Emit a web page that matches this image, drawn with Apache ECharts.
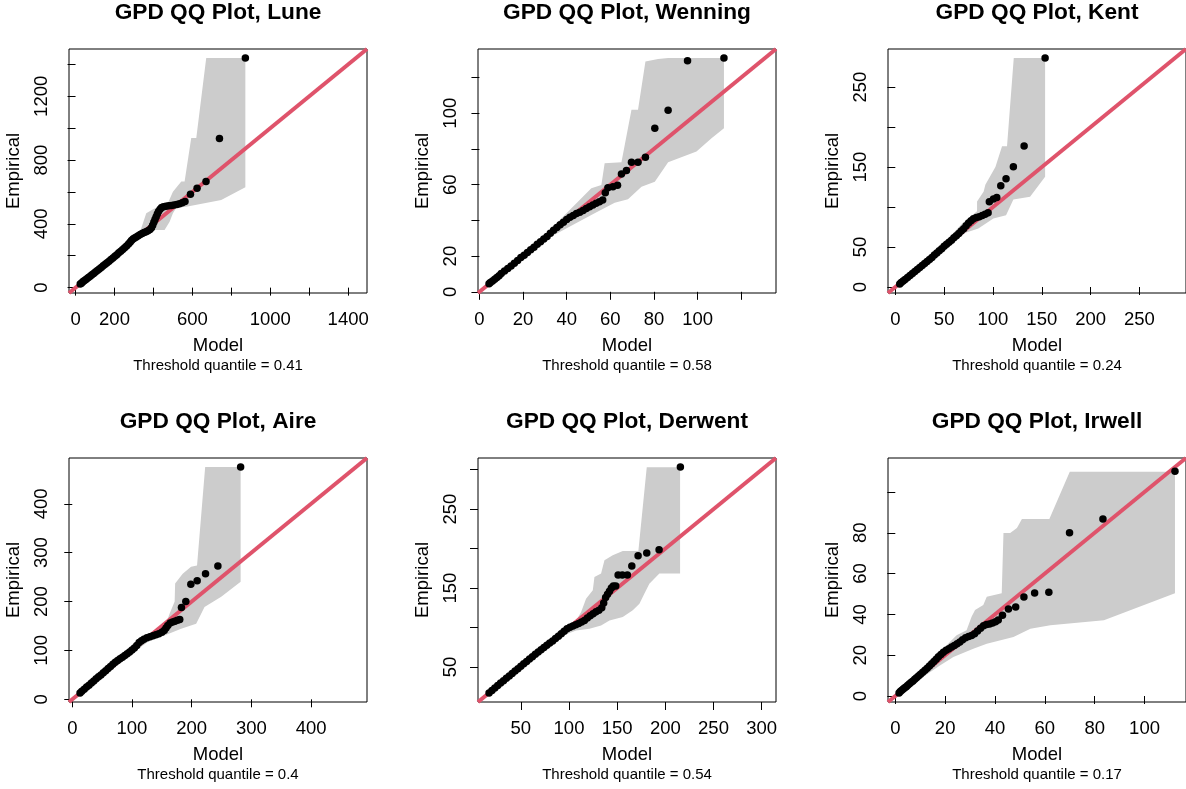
<!DOCTYPE html>
<html><head><meta charset="utf-8">
<script src="https://cdn.jsdelivr.net/npm/echarts@6/dist/echarts.min.js"></script>
<style>html,body{margin:0;padding:0;background:#fff}#c{width:1186px;height:789px}</style>
</head><body><div id="c"></div>
<script>
const FONT = '"Liberation Sans", Arial, Helvetica, sans-serif';

// ---------- Lune ----------
const lunePts = [[24,23],[30,28],[36,35],[42,41],[50,48],[58,56],[66,63],[75,72],[84,80],[93,89],[102,98],[112,108],[122,117],[132,127],[142,137],[152,146],[162,156],[172,166],[182,176],[192,186],[202,197],[212,207],[222,218],[232,228],[242,239],[252,250],[262,261],[272,273],[280,285],[287,296],[295,305],[303,312],[312,318],[322,325],[332,333],[342,340],[352,346],[362,350],[372,356],[382,364],[390,375],[396,392],[402,410],[408,428],[414,445],[420,462],[426,478],[434,492],[442,502],[452,508],[464,511],[478,513],[492,515],[506,518],[520,521],[534,526],[548,532],[562,540],[590,586],[624,624],[670,666],[739,936],[872,1440]];
const luneUpper = [[23,27],[150,162],[280,298],[320,338],[337,371],[363,466],[405,497],[466,507],[500,602],[543,665],[560,665],[594,938],[620,938],[671,1441],[872,1441]];
const luneLower = [[872,629],[748,549],[568,507],[517,501],[500,466],[483,413],[457,361],[389,361],[340,318],[200,185],[23,20]];
const luneXTicks = [0,200,400,600,800,1000,1200,1400];
const luneXLabels = [0,200,600,1000,1400];
const luneYTicks = [0,200,400,600,800,1000,1200,1400];
const luneYLabels = [0,400,800,1200];

// ---------- Wenning ----------
const wenPts = [[4.4,4.5],[5,5.2],[6,6],[7,7],[8,8],[9,9],[10,10.2],[11.5,11.6],[13,13],[14.5,14.5],[16,16],[17.5,17.6],[19,19.2],[20.5,20.5],[22,22],[23.5,23.5],[25,25],[26.5,26.6],[28,28],[29.5,29.6],[31,31],[32.5,32.8],[34,34.5],[35.5,36],[37,37.5],[38.5,39],[40,40.5],[41.5,41.7],[43,42.8],[44.5,43.8],[46,44.6],[47.5,45.5],[49,46.6],[50.5,47.6],[52,48.6],[53.5,49.6],[55,50.5],[56.5,51.4],[57.7,55.5],[58.9,58.3],[61.2,58.9],[63.3,59.7],[65.1,66],[67.4,67.9],[69.7,72.6],[72.7,72.6],[76.1,75.4],[80.4,91.6],[86.5,101.7],[95.4,129.4],[112.1,130.9]];
const wenUpper = [[4.4,5.2],[30,31.5],[38.3,42.1],[51.3,58],[55.9,59.8],[57.4,72],[65.1,72.6],[69.7,101.9],[72.7,101.9],[76.1,129],[81.9,130.3],[86.5,130.9],[112.1,130.9]];
const wenLower = [[112.1,91.6],[106.4,86],[99.5,78.5],[86.5,72.6],[80.4,61.7],[74.3,58.9],[68.1,51.8],[62,49.9],[52.8,44],[43.6,38],[30,29],[4.4,4]];
const wenXTicks = [0,20,40,60,80,100,120];
const wenXLabels = [0,20,40,60,80,100];
const wenYTicks = [0,20,40,60,80,100,120];
const wenYLabels = [0,20,60,100];

// ---------- Kent ----------
const kentPts = [[4.5,3.8],[6,5.5],[8,7.5],[10,9.5],[12.5,12],[15,14.5],[17.5,17],[20,19.5],[22.5,22],[25,24.5],[27.5,27],[30,29.5],[32.5,32],[35,34.5],[37.5,37],[40,40],[42.5,42.5],[45,45.5],[47.5,48],[50,51],[52.5,53.5],[55,56],[57.5,58.5],[60,61.5],[62.5,64],[65,67],[67.5,70],[70,73],[72.5,76.5],[75,80],[77.5,83],[80,85.5],[83,87],[86,88],[89,89.5],[92,91],[95,92.8],[96.3,106.6],[100.5,110],[103.9,112.1],[108,126.7],[113.4,135.4],[120.9,150.5],[131.9,176.4],[153.4,286.4]];
const kentUpper = [[4.5,5],[40,42],[69,80],[83.7,94.6],[83.7,107],[90.5,119.6],[92.2,128],[102.5,150],[109.3,176],[114.4,176],[121.3,286.5],[153.4,286.5]];
const kentLower = [[153.4,138],[138,112.9],[120.9,109.6],[113.4,89.9],[100.4,85.8],[85,73.2],[69.7,67],[40,39],[4.5,3.5]];
const kentXTicks = [0,50,100,150,200,250];
const kentXLabels = [0,50,100,150,200,250];
const kentYTicks = [0,50,100,150,200,250];
const kentYLabels = [0,50,150,250];

// ---------- Aire ----------
const airePts = [[13,13],[16,16.5],[20,20.5],[24,25],[28,29],[32,33.5],[36,37.5],[40,42],[44,46],[48,50],[52,54.5],[56,58.5],[60,63],[64,67],[68,71.5],[72,76],[76,79.5],[80,83],[84,86],[88,89.5],[92,93],[96,97],[100,101],[104,105],[108,110],[112,116],[116,120],[120,123],[125,126],[130,128],[135,130],[140,132],[145,134],[150,137],[154,141],[157,146],[160,151],[164,156],[168,158],[172,159.5],[176,162],[180,163.5],[182.9,187.6],[190.2,200],[198.6,235.6],[209.2,242.4],[223.2,256.8],[243.9,272.6],[282,475.2]];
const aireUpper = [[13,14],[100,105],[109.6,121.9],[123.6,130.8],[140,142],[158,158],[163,175],[171.5,200],[172.3,237],[185,257],[199,271],[209,274],[222.6,475.3],[282,475.3]];
const aireLower = [[282,240.4],[249.5,209.6],[221.5,189],[215.9,175.3],[207.5,154.8],[182.3,144.5],[154.4,130.8],[126.4,117.1],[60,58],[13,12]];
const aireXTicks = [0,100,200,300,400];
const aireXLabels = [0,100,200,300,400];
const aireYTicks = [0,100,200,300,400];
const aireYLabels = [0,100,200,300,400];

// ---------- Derwent ----------
const derPts = [[17,17],[20,20.2],[23,23.3],[26,26.4],[29,29.5],[32,32.6],[35,35.6],[38,38.6],[41,41.6],[44,44.7],[47,47.8],[50,50.9],[53,54],[56,57],[59,60],[62,63],[65,66],[68,69],[71,71.8],[74,74.7],[77,77.5],[80,80.2],[83,83],[86,86],[89,89],[92,92.2],[95,95.2],[98,98.3],[101,100.2],[104,101.8],[107,103.4],[110,105],[113,106.8],[116,109],[119,112],[122,114.8],[125,117.5],[128,120],[131,122],[134,125],[136,131],[138,138],[140,142],[142,146],[144,150],[146,152.6],[148.5,152.6],[151,166.6],[155.4,166.6],[160.6,166.6],[165.2,178.1],[171.7,191],[180.7,194.4],[193.5,198.6],[215.6,303.4]];
const derUpper = [[16.8,18],[60,62],[91.8,98.3],[107.4,108.9],[112.6,119.5],[117.7,136.5],[124.7,147.1],[126.4,164],[133.3,168.3],[136.8,185.2],[145.4,191.6],[155.8,197.1],[172,197.1],[180.7,303],[215.3,303]];
const derLower = [[215.3,168.3],[193.8,168.3],[183.4,155.6],[178.2,142.9],[173.1,130.1],[166.2,121.7],[155.8,113.2],[142,109],[133.3,102.6],[121.2,98.3],[107.4,96.2],[93.5,89.9],[50,48],[16.8,16]];
const derXTicks = [50,100,150,200,250,300];
const derXLabels = [50,100,150,200,250,300];
const derYTicks = [50,100,150,200,250,300];
const derYLabels = [50,150,250];

// ---------- Irwell ----------
const irwPts = [[1.5,1.5],[2,2.2],[2.6,2.8],[3.2,3.4],[3.8,4],[4.4,4.6],[5,5.3],[5.7,6],[6.4,6.7],[7.1,7.4],[7.8,8.2],[8.5,9],[9.3,9.8],[10.1,10.7],[11,11.6],[11.9,12.6],[12.8,13.6],[13.7,14.7],[14.6,15.8],[15.5,16.9],[16.4,18],[17.3,19.2],[18.3,20.4],[19.3,21.4],[20.4,22.4],[21.5,23.2],[22.6,24],[23.7,24.8],[24.8,25.6],[25.9,26.5],[27,27.6],[28.2,28.6],[29.4,29.2],[30.6,29.6],[31.8,30.5],[33,31.8],[34.2,33.2],[35.4,34.4],[36.6,35],[37.8,35.3],[39,35.8],[40.2,36.4],[41.3,37.3],[43,39.6],[45.4,42.7],[48.3,43.6],[51.6,48.5],[55.9,50.5],[61.6,50.8],[69.9,80],[83.3,86.7],[112.2,110.1]];
const irwUpper = [[1.5,1.8],[10,11.5],[16.5,19.1],[21.2,25.6],[24.6,29.8],[28.6,32.2],[30.6,38.8],[32,42.1],[35.3,44.6],[36.7,48.7],[42.7,50.3],[43.4,79.9],[46.1,79.9],[48.8,82.3],[50.8,86.7],[61.8,86.7],[70,109.9],[112.2,109.9]];
const irwLower = [[112.2,50.3],[83.7,37.1],[62.2,34.7],[54.2,33],[47.4,28.9],[36.7,25.6],[31.3,23.2],[23.3,19.1],[17.9,15],[1.5,1.3]];
const irwXTicks = [0,20,40,60,80,100];
const irwXLabels = [0,20,40,60,80,100];
const irwYTicks = [0,20,40,60,80,100];
const irwYLabels = [0,20,40,60,80];

const panels = [
  {name:'Lune', thr:'0.41', pts:lunePts, up:luneUpper, lo:luneLower, xt:luneXTicks, xl:luneXLabels, yt:luneYTicks, yl:luneYLabels},
  {name:'Wenning', thr:'0.58', pts:wenPts, up:wenUpper, lo:wenLower, xt:wenXTicks, xl:wenXLabels, yt:wenYTicks, yl:wenYLabels},
  {name:'Kent', thr:'0.24', pts:kentPts, up:kentUpper, lo:kentLower, xt:kentXTicks, xl:kentXLabels, yt:kentYTicks, yl:kentYLabels},
  {name:'Aire', thr:'0.4', pts:airePts, up:aireUpper, lo:aireLower, xt:aireXTicks, xl:aireXLabels, yt:aireYTicks, yl:aireYLabels},
  {name:'Derwent', thr:'0.54', pts:derPts, up:derUpper, lo:derLower, xt:derXTicks, xl:derXLabels, yt:derYTicks, yl:derYLabels},
  {name:'Irwell', thr:'0.17', pts:irwPts, up:irwUpper, lo:irwLower, xt:irwXTicks, xl:irwXLabels, yt:irwYTicks, yl:irwYLabels}
];

const colLeft = [69, 478, 888], rowTop = [49, 458], W = 298, H = 244;

function lims(pts) {
  let a = Infinity, b = -Infinity;
  pts.forEach(p => { a = Math.min(a, p[0], p[1]); b = Math.max(b, p[0], p[1]); });
  const r = b - a;
  return [a - 0.04 * r, b + 0.04 * r];
}

const grids = [], xAxes = [], yAxes = [], series = [], graphics = [];
panels.forEach((p, i) => {
  const L = colLeft[i % 3], T = rowTop[Math.floor(i / 3)];
  const [mn, mx] = lims(p.pts);
  grids.push({left: L, top: T, width: W, height: H, show: true, borderColor: '#000', borderWidth: 1, backgroundColor: 'transparent'});
  const common = {
    gridIndex: i, type: 'value', min: mn, max: mx,
    axisLine: {show: false}, splitLine: {show: false},
    axisTick: {show: true, length: 8, lineStyle: {color: '#000', width: 1}}
  };
  xAxes.push(Object.assign({}, common, {
    axisTick: Object.assign({}, common.axisTick, {customValues: p.xt}),
    axisLabel: {customValues: p.xl, color: '#000', fontSize: 18.5, fontFamily: FONT, margin: 17, formatter: v => String(v)}
  }));
  yAxes.push(Object.assign({}, common, {
    axisTick: Object.assign({}, common.axisTick, {customValues: p.yt}),
    axisLabel: {customValues: p.yl, color: '#000', fontSize: 18.5, fontFamily: FONT, margin: 18, rotate: 90, formatter: v => String(v)}
  }));
  const poly = p.up.concat(p.lo);
  series.push({
    type: 'custom', xAxisIndex: i, yAxisIndex: i, silent: true, z: 1, clip: true,
    data: [poly[0]],
    renderItem: (params, api) => ({
      type: 'polygon',
      shape: {points: poly.map(q => api.coord(q))},
      style: {fill: '#CCCCCC'}
    })
  });
  series.push({
    type: 'line', xAxisIndex: i, yAxisIndex: i, silent: true, z: 2, clip: true,
    data: [[mn, mn], [mx, mx]], symbol: 'none',
    lineStyle: {color: '#DF536B', width: 4}
  });
  series.push({
    type: 'scatter', xAxisIndex: i, yAxisIndex: i, silent: true, z: 3,
    data: p.pts, symbolSize: 7.5, itemStyle: {color: '#000', opacity: 1}
  });
  const cx = L + W / 2;
  graphics.push({type: 'text', x: cx, y: T - 36, silent: true,
    style: {text: 'GPD QQ Plot, ' + p.name, fill: '#000', fontSize: 22.7, fontWeight: 'bold', fontFamily: FONT, align: 'center', verticalAlign: 'middle'}});
  graphics.push({type: 'text', x: cx, y: T + H + 53, silent: true,
    style: {text: 'Model', fill: '#000', fontSize: 18.5, fontFamily: FONT, align: 'center', verticalAlign: 'middle'}});
  graphics.push({type: 'text', x: cx, y: T + H + 72.5, silent: true,
    style: {text: 'Threshold quantile = ' + p.thr, fill: '#000', fontSize: 15, fontFamily: FONT, align: 'center', verticalAlign: 'middle'}});
  graphics.push({type: 'text', x: L - 55, y: T + H / 2, rotation: Math.PI / 2, silent: true,
    style: {text: 'Empirical', fill: '#000', fontSize: 18.5, fontFamily: FONT, align: 'center', verticalAlign: 'middle'}});
});

const chart = echarts.init(document.getElementById('c'), null, {renderer: 'canvas'});
chart.setOption({
  animation: false,
  backgroundColor: '#fff',
  grid: grids, xAxis: xAxes, yAxis: yAxes, series: series,
  graphic: graphics
});
</script>
</body></html>
